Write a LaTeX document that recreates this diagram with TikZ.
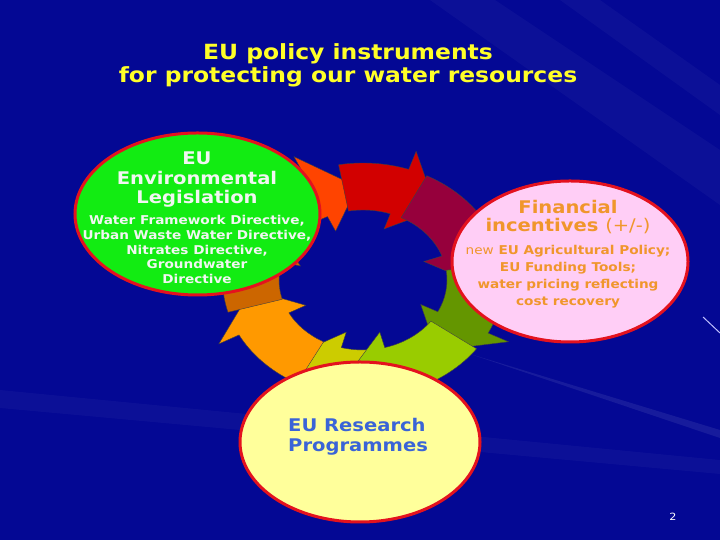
\documentclass[tikz,border=0pt]{standalone}
\usepackage{fontspec}
\setmainfont{DejaVu Sans}[FakeStretch=1.12]
\usepackage{tikz}
\usetikzlibrary{shapes.geometric, positioning}
\definecolor{slideblue}{RGB}{4,8,148}
\definecolor{titleyellow}{RGB}{255,255,40}
\definecolor{rimred}{RGB}{228,18,30}
\definecolor{legisgreen}{RGB}{18,236,18}
\definecolor{legiswhite}{RGB}{242,246,242}
\definecolor{fundpink}{RGB}{255,206,246}
\definecolor{fundorange}{RGB}{240,150,44}
\definecolor{researchyellow}{RGB}{255,255,155}
\definecolor{researchblue}{RGB}{58,100,215}
\definecolor{arrowflame}{RGB}{255,68,0}
\definecolor{arrowred}{RGB}{210,0,0}
\definecolor{arrowmaroon}{RGB}{150,0,60}
\definecolor{arrowleaf}{RGB}{100,150,0}
\definecolor{arrowlime}{RGB}{153,204,0}
\definecolor{arrowolive}{RGB}{204,204,0}
\definecolor{arroworange}{RGB}{255,153,0}
\definecolor{arrowbrown}{RGB}{204,102,0}
\tikzset{bubble/.style={ellipse, draw=rimred, line width=3bp, inner sep=0pt},
  ringarrow/.style={draw=black!75, line width=0.4bp},
  streak/.style={white, opacity=0.035},
  headtext/.style={font=\bfseries\fontsize{17.5}{19.5}\selectfont, align=center, inner sep=0pt},
  detailtext/.style={font=\bfseries\fontsize{12.2}{15}\selectfont, align=center, inner sep=0pt}}

\begin{document}
\begin{tikzpicture}[x=1bp,y=1bp]
\useasboundingbox (0,0) rectangle (720,540);
\fill[slideblue] (0,0) rectangle (720,540);
\fill[streak] (430,540) -- (495,540) -- (720,390) -- (720,335) -- cycle;
\fill[streak] (560,540) -- (600,540) -- (720,455) -- (720,425) -- cycle;
\fill[streak] (0,150) -- (0,132) -- (720,66) -- (720,80) -- cycle;
\fill[white, opacity=0.08] (470,186) -- (480,183) -- (720,110) -- (720,102) -- cycle;
\draw[white!75!blue, line width=1bp] (703,223) -- (720,207);

\node[font=\bfseries\fontsize{21}{23}\selectfont, text=titleyellow, align=center, inner sep=0pt, anchor=north]
  (title) at (348,497) {EU policy instruments\\for protecting our water resources};

% cycle of arrows
\begin{scope}[shift={(363,260)}, xscale=1.2]
\foreach \col/\ta/\hb in {arrowolive/-85/-105, arroworange/-118/-152, arrowbrown/-164/-195,
  arrowflame/-205/-245, arrowred/-260/-289, arrowmaroon/-297/-340, arrowleaf/-352/-387, arrowlime/-396/-435}
  \filldraw[ringarrow, fill=\col] (\ta:117) arc[start angle=\ta, end angle=\hb, radius=117]
    -- (\hb:136) -- ({\hb-22}:93.5) -- (\hb:54) -- (\hb:70)
    arc[start angle=\hb, end angle=\ta, radius=70] -- cycle;
\end{scope}

\node[bubble, fill=legisgreen, minimum width=245bp, minimum height=162bp] (legis) at (197.5,326) {};
\node[headtext, text=legiswhite, anchor=north] (legishead) at (197,388) {EU\\Environmental\\Legislation};
\node[detailtext, text=legiswhite, below=7bp of legishead] (legisdetail)
  {Water Framework Directive,\\Urban Waste Water Directive,\\Nitrates Directive,\\Groundwater\\Directive};

\node[bubble, fill=fundpink, minimum width=236bp, minimum height=161bp] (fund) at (570,278.5) {};
\node[headtext, text=fundorange, anchor=north, font=\bfseries\fontsize{17.5}{18}\selectfont] (fundhead) at (568,340)
  {Financial\\incentives {\mdseries (+/-)}};
\node[detailtext, text=fundorange, below=11bp of fundhead, font=\bfseries\fontsize{12.2}{17}\selectfont] (funddetail)
  {{\mdseries new} EU Agricultural Policy;\\EU Funding Tools;\\water pricing reflecting\\cost recovery};

\node[bubble, fill=researchyellow, minimum width=240bp, minimum height=160bp] (research) at (360,98) {};
\node[headtext, text=researchblue, align=left, anchor=north west, font=\bfseries\fontsize{17.5}{20}\selectfont]
  (researchhead) at (288,122) {EU Research\\Programmes};

\node[text=white, font=\fontsize{10}{12}\selectfont] (pagenum) at (673,23) {2};
\end{tikzpicture}
\end{document}
